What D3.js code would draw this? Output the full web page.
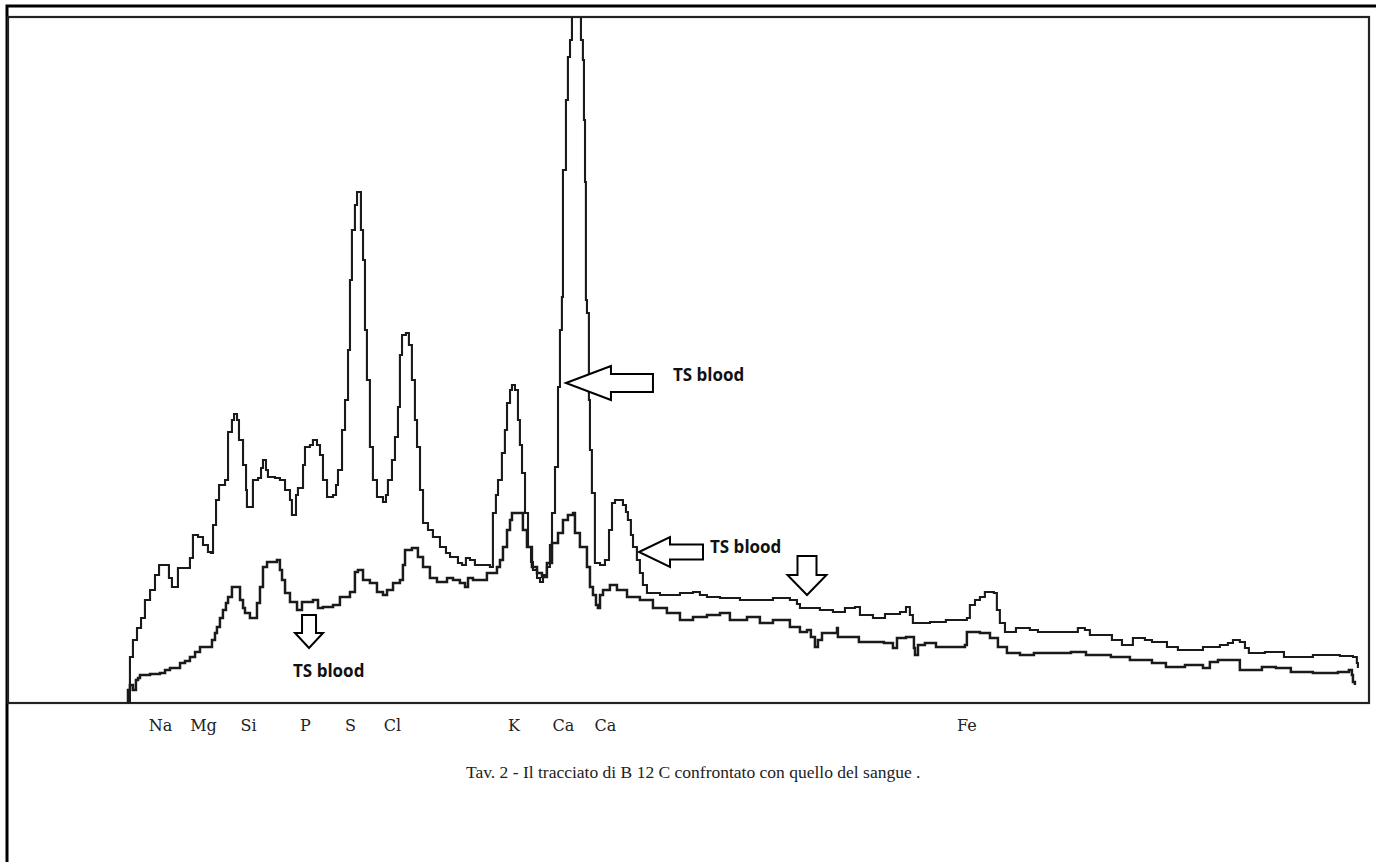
<!DOCTYPE html>
<html>
<head>
<meta charset="utf-8">
<script src="https://cdn.jsdelivr.net/npm/d3@7"></script>
<style>
  html, body { margin: 0; padding: 0; background: #fff; }
  .label { font-family: "DejaVu Serif", serif; font-size: 16px; fill: #222; }
  .caption { font-family: "Liberation Serif", serif; font-size: 17.5px; fill: #222; }
  .note { font-family: "Open Sans", sans-serif; font-weight: bold; font-size: 17px; fill: #111; }
</style>
</head>
<body>
<div id="main"></div>
<script>
// energia (keV) e conteggi
const sampleKeV = [0.793,0.813,0.833,0.860,0.887,0.913,0.947,0.980,1.007,1.053,1.073,1.093,1.120,1.133,1.187,1.213,1.233,1.267,1.300,1.333,1.353,1.367,1.387,1.407,1.447,1.467,1.493,1.507,1.527,1.540,1.567,1.587,1.593,1.620,1.633,1.667,1.687,1.700,1.720,1.733,1.780,1.813,1.847,1.880,1.893,1.907,1.920,1.933,1.967,1.980,2.013,2.033,2.060,2.080,2.100,2.127,2.167,2.187,2.200,2.227,2.247,2.267,2.280,2.293,2.313,2.327,2.340,2.353,2.367,2.380,2.393,2.413,2.433,2.460,2.500,2.520,2.533,2.560,2.580,2.600,2.613,2.627,2.653,2.673,2.693,2.713,2.727,2.747,2.767,2.800,2.833,2.880,2.920,2.947,3.000,3.027,3.053,3.080,3.113,3.160,3.213,3.233,3.253,3.267,3.293,3.313,3.327,3.347,3.360,3.380,3.400,3.413,3.427,3.447,3.467,3.487,3.500,3.527,3.547,3.567,3.593,3.613,3.627,3.647,3.667,3.680,3.693,3.700,3.720,3.733,3.747,3.760,3.813,3.820,3.833,3.840,3.847,3.853,3.860,3.873,3.880,3.893,3.913,3.947,3.980,4.007,4.027,4.047,4.080,4.100,4.120,4.133,4.153,4.167,4.193,4.213,4.233,4.260,4.347,4.433,4.480,4.567,4.613,4.660,4.747,4.880,5.013,5.100,5.213,5.260,5.280,5.413,5.500,5.580,5.647,5.680,5.767,5.847,5.947,5.987,6.013,6.033,6.147,6.253,6.393,6.413,6.447,6.480,6.513,6.547,6.573,6.593,6.613,6.647,6.720,6.813,6.867,7.013,7.087,7.133,7.180,7.213,7.360,7.427,7.500,7.580,7.627,7.727,7.800,7.967,8.080,8.133,8.167,8.213,8.247,8.273,8.380,8.453,8.507,8.700,8.880,8.967,8.993,9.000];
const sampleCounts = [0,230,315,375,425,515,565,640,690,690,625,580,580,675,675,725,840,830,790,755,750,890,1015,1090,1115,1355,1415,1445,1415,1315,1190,1065,980,980,1115,1125,1175,1215,1165,1130,1125,1115,1065,1015,940,940,1040,1075,1190,1280,1290,1315,1290,1240,1115,1030,1040,1090,1165,1365,1515,1765,2115,2365,2490,2555,2555,2365,2215,1865,1615,1280,1115,1030,1005,1040,1115,1215,1330,1480,1740,1840,1850,1790,1615,1415,1280,1065,900,865,830,780,750,730,700,690,725,715,690,690,680,950,1040,1115,1250,1365,1500,1565,1590,1565,1415,1290,1150,950,780,705,665,625,605,640,680,790,950,1180,1580,1865,2030,2665,3015,3230,3315,3600,3600,3315,3215,2915,2605,2015,1950,1515,1265,1050,700,690,715,865,1000,1015,1015,990,955,915,840,780,715,650,590,550,540,540,550,555,540,530,525,515,515,525,515,495,475,465,455,475,480,440,425,445,455,480,440,400,405,415,425,490,515,530,555,555,550,465,400,355,375,365,355,355,355,375,365,340,315,290,325,315,305,280,265,280,290,300,315,305,275,250,255,255,230,240,235,230,200,175];

const bloodKeV = [0.793,0.800,0.813,0.833,0.853,0.867,0.880,0.947,1.013,1.047,1.080,1.147,1.180,1.213,1.247,1.280,1.327,1.360,1.380,1.393,1.413,1.433,1.453,1.467,1.493,1.527,1.547,1.567,1.580,1.613,1.647,1.660,1.680,1.700,1.727,1.793,1.813,1.827,1.847,1.880,1.927,1.960,2.033,2.067,2.100,2.167,2.213,2.280,2.313,2.333,2.367,2.413,2.460,2.500,2.527,2.567,2.613,2.633,2.647,2.693,2.733,2.767,2.813,2.860,2.927,2.967,3.013,3.047,3.067,3.100,3.193,3.260,3.280,3.300,3.327,3.347,3.360,3.413,3.433,3.460,3.493,3.527,3.560,3.593,3.627,3.667,3.700,3.733,3.767,3.780,3.813,3.860,3.880,3.900,3.920,3.933,3.947,3.967,4.013,4.060,4.127,4.213,4.300,4.393,4.480,4.567,4.660,4.747,4.813,4.927,5.013,5.100,5.213,5.280,5.327,5.353,5.380,5.400,5.427,5.527,5.533,5.647,5.673,5.840,5.900,5.927,5.987,6.040,6.047,6.067,6.113,6.187,6.280,6.380,6.393,6.480,6.547,6.600,6.660,6.747,6.840,6.987,7.087,7.187,7.353,7.480,7.627,7.720,7.847,7.967,8.013,8.067,8.160,8.213,8.360,8.453,8.553,8.700,8.867,8.940,8.960,8.967,8.980];
const bloodCounts = [0,65,90,65,115,125,140,145,150,165,175,200,210,230,255,280,280,315,350,380,425,465,500,530,580,580,515,475,450,425,425,500,580,680,705,715,665,615,550,505,465,505,515,475,480,490,530,555,655,665,615,600,555,540,565,600,615,690,765,775,730,680,625,605,625,615,600,580,625,615,650,680,715,780,865,915,950,950,865,780,680,650,630,700,800,850,915,940,950,850,780,680,580,540,490,475,540,565,590,565,530,515,475,450,415,430,440,450,415,430,400,415,380,355,365,330,280,315,350,375,330,330,305,300,275,325,330,275,240,290,300,280,280,290,355,350,325,280,250,240,250,250,255,240,230,215,200,180,190,175,205,215,215,165,180,175,155,150,155,165,140,105,90];

// etichette degli elementi (keV)
const elementNames = ["Na", "Mg", "Si", "P", "S", "Cl", "K", "Ca", "Ca", "Fe"];
const elementKeV = [1.013, 1.300, 1.600, 1.980, 2.280, 2.560, 3.370, 3.700, 3.980, 6.390];

const caption = "Tav. 2 - Il tracciato di B 12 C confrontato con quello del sangue .";

/*
    dimensioni
*/
const W = 1376, H = 862;
const mLeft = 8, mRight = 1369, mTop = 17, mBottom = 703;

var svg = d3.select("#main")
    .append("svg")
    .attr("width", W)
    .attr("height", H)
    .style("display", "block");

var x = d3.scaleLinear()
    .domain([0, 9.074])
    .range([mLeft, mRight]);

var y = d3.scaleLinear()
    .domain([0, 3430])
    .range([mBottom, mTop]);

/*
    cornice
*/
svg.append("path")
    .attr("d", "M7," + H + "V6H" + W)
    .attr("fill", "none")
    .attr("stroke", "#000")
    .attr("stroke-width", 3);

svg.append("rect")
    .attr("x", mLeft)
    .attr("y", mTop)
    .attr("width", mRight - mLeft)
    .attr("height", mBottom - mTop)
    .attr("fill", "none")
    .attr("stroke", "#222")
    .attr("stroke-width", 2.2);

svg.append("clipPath")
    .attr("id", "clip")
    .append("rect")
    .attr("x", mLeft)
    .attr("y", mTop)
    .attr("width", mRight - mLeft)
    .attr("height", mBottom - mTop);

/*
    tracciati
*/
var line = d3.line()
    .x(d => x(d[0]))
    .y(d => y(d[1]))
    .curve(d3.curveStepAfter);

var g = svg.append("g").attr("clip-path", "url(#clip)");

g.append("path")
    .datum(d3.zip(bloodKeV, bloodCounts))
    .attr("d", line)
    .attr("fill", "none")
    .attr("stroke", "#1a1a1a")
    .attr("stroke-width", 2.5)
    .attr("stroke-linejoin", "miter");

g.append("path")
    .datum(d3.zip(sampleKeV, sampleCounts))
    .attr("d", line)
    .attr("fill", "none")
    .attr("stroke", "#1a1a1a")
    .attr("stroke-width", 2.1)
    .attr("stroke-linejoin", "miter");

/*
    asse: nomi degli elementi
*/
var xAxis = d3.axisBottom(x)
    .tickValues(elementKeV)
    .tickFormat((d, i) => elementNames[i])
    .tickSize(0)
    .tickPadding(17);

var ax = svg.append("g")
    .attr("transform", "translate(0," + mBottom + ")")
    .call(xAxis);
ax.select(".domain").remove();
ax.attr("font-family", null).attr("font-size", null);
ax.selectAll("text")
    .attr("class", "label")
    .attr("fill", null);

svg.append("text")
    .attr("class", "caption")
    .attr("x", 466)
    .attr("y", 778)
    .text(caption);

/*
    frecce "TS blood"
*/
const notes = [
    {e: 3.72, c: 1600, dir: "left", head: 45, hw: 17, sw: 9, shaft: 42, tx: 107, ty: -2},
    {e: 4.207, c: 755, dir: "left", head: 31, hw: 15, sw: 7.5, shaft: 33, tx: 71, ty: 1},
    {e: 5.327, c: 540, dir: "down", head: 20, hw: 19.5, sw: 9.5, shaft: 19},
    {e: 2.007, c: 275, dir: "down", head: 15, hw: 14, sw: 7, shaft: 18, tx: -16, ty: 29}
];

notes.forEach(function(n){
    var px = x(n.e), py = y(n.c), pts;
    if (n.dir == "left") {
        pts = [[px, py], [px + n.head, py - n.hw], [px + n.head, py - n.sw],
               [px + n.head + n.shaft, py - n.sw], [px + n.head + n.shaft, py + n.sw],
               [px + n.head, py + n.sw], [px + n.head, py + n.hw]];
    } else {
        pts = [[px, py], [px - n.hw, py - n.head], [px - n.sw, py - n.head],
               [px - n.sw, py - n.head - n.shaft], [px + n.sw, py - n.head - n.shaft],
               [px + n.sw, py - n.head], [px + n.hw, py - n.head]];
    }
    svg.append("polygon")
        .attr("points", pts.map(p => p.join(",")).join(" "))
        .attr("fill", "#fff")
        .attr("stroke", "#000")
        .attr("stroke-width", 2);
    if (n.tx !== undefined) {
        svg.append("text")
            .attr("class", "note")
            .attr("x", px + n.tx)
            .attr("y", py + n.ty)
            .text("TS blood");
    }
});
</script>
</body>
</html>
